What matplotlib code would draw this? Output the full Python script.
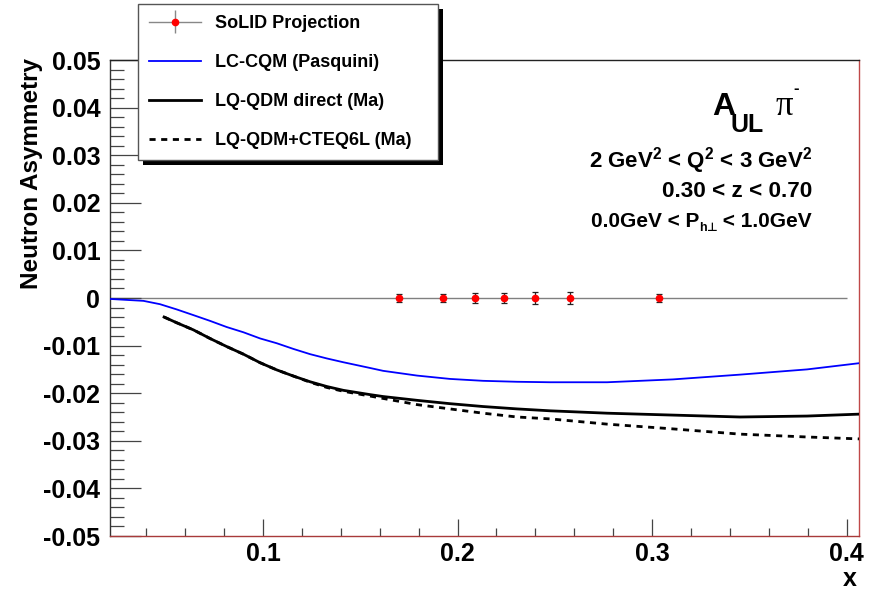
import matplotlib
matplotlib.use('Agg')
import matplotlib.pyplot as plt
from matplotlib.patches import Rectangle
from matplotlib.container import ErrorbarContainer
from matplotlib.legend_handler import HandlerErrorbar
from matplotlib.ticker import MultipleLocator, FixedLocator

plt.rcParams['font.family'] = ['Liberation Sans', 'DejaVu Sans']
plt.rcParams['font.weight'] = 'bold'
plt.rcParams['mathtext.fontset'] = 'custom'
plt.rcParams['mathtext.rm'] = 'Liberation Sans:bold'
plt.rcParams['mathtext.bf'] = 'Liberation Sans:bold'
plt.rcParams['mathtext.it'] = 'Liberation Sans:bold'
plt.rcParams['mathtext.default'] = 'bf'

# ---------------- data ----------------
proj_x = [0.170, 0.1925, 0.209, 0.224, 0.240, 0.258, 0.3035]
proj_y = [0.0, 0.0, 0.0, 0.0, 0.0, 0.0, 0.0]
proj_err = [0.0009, 0.0009, 0.0010, 0.0011, 0.0013, 0.0012, 0.0009]

cqm_x = [0.0213, 0.0385, 0.0470, 0.0556, 0.0642, 0.0727, 0.0813, 0.0899, 0.0985, 0.1070,
         0.1156, 0.1242, 0.1328, 0.1413, 0.1550, 0.1617, 0.1792, 0.1961, 0.2131,
         0.2306, 0.2476, 0.2769, 0.3108, 0.3452, 0.3797, 0.4064]
cqm_y = [-0.0002, -0.0006, -0.0013, -0.0024, -0.0036, -0.0048, -0.0061, -0.0072, -0.0085,
         -0.0095, -0.0107, -0.0118, -0.0127, -0.0135, -0.0147, -0.0153, -0.0163, -0.0170,
         -0.0174, -0.0176, -0.0177, -0.0177, -0.0171, -0.0161, -0.0150, -0.0137]

ma_x = [0.0491, 0.0556, 0.0642, 0.0727, 0.0813, 0.0899, 0.0985, 0.1070, 0.1156, 0.1242,
        0.1328, 0.1413, 0.1550, 0.1617, 0.1792, 0.1961, 0.2131, 0.2306, 0.2476, 0.2769,
        0.3108, 0.3452, 0.3797, 0.4064]
ma_direct_y = [-0.0040, -0.0052, -0.0067, -0.0085, -0.0102, -0.0118, -0.0136, -0.0151,
               -0.0164, -0.0176, -0.0186, -0.0194, -0.0203, -0.0207, -0.0215, -0.0222,
               -0.0228, -0.0233, -0.0237, -0.0242, -0.0246, -0.0250, -0.0248, -0.0244]
ma_cteq_y = [-0.0040, -0.0052, -0.0067, -0.0085, -0.0102, -0.0118, -0.0136, -0.0151,
             -0.0164, -0.0177, -0.0188, -0.0196, -0.0206, -0.0211, -0.0224, -0.0233,
             -0.0242, -0.0250, -0.0254, -0.0265, -0.0275, -0.0286, -0.0292, -0.0296]

labels = ['SoLID Projection', 'LC-CQM (Pasquini)', 'LQ-QDM direct (Ma)', 'LQ-QDM+CTEQ6L (Ma)']

x_ticks = [0.1, 0.2, 0.3, 0.4]
x_tick_labels = ['0.1', '0.2', '0.3', '0.4']
y_ticks = [0.05, 0.04, 0.03, 0.02, 0.01, 0.0, -0.01, -0.02, -0.03, -0.04, -0.05]
y_tick_labels = ['0.05', '0.04', '0.03', '0.02', '0.01', '0', '-0.01', '-0.02', '-0.03', '-0.04', '-0.05']

x_range = (0.0213, 0.4064)
y_range = (-0.05, 0.05)
zero_line_end = 0.4

# ---------------- figure ----------------
W, H = 876, 593
fig = plt.figure(figsize=(W / 100, H / 100), dpi=100)
ax = fig.add_axes([110 / W, 1 - 536 / H, (859 - 110) / W, (536 - 60) / H])

ax.hlines(0, x_range[0], zero_line_end, color='#808080', lw=1.0, zorder=1)

ax.plot(cqm_x, cqm_y, color='#0000ff', lw=1.3, zorder=3)
ax.plot(ma_x, ma_direct_y, color='black', lw=2.0, zorder=3)
ax.plot(ma_x, ma_cteq_y, color='black', lw=2.0, ls=(0, (2.2, 2.0)), zorder=3)

ax.errorbar(proj_x, proj_y, yerr=proj_err, fmt='o', ms=4.5, mfc='red', mec='red',
            ecolor='#222222', elinewidth=0.9, capsize=2.0, capthick=0.9, zorder=4)

ax.set_xlim(*x_range)
ax.set_ylim(*y_range)

ax.xaxis.set_major_locator(FixedLocator(x_ticks))
ax.set_xticklabels(x_tick_labels)
ax.xaxis.set_minor_locator(MultipleLocator(0.02))
ax.yaxis.set_major_locator(FixedLocator(y_ticks))
ax.set_yticklabels(y_tick_labels)
ax.yaxis.set_minor_locator(MultipleLocator(0.002))

ax.tick_params(axis='both', which='both', direction='in', color='#444444',
               top=False, right=False, width=0.9)
ax.tick_params(axis='y', which='major', length=22, pad=7, labelsize=18)
ax.tick_params(axis='y', which='minor', length=10)
ax.tick_params(axis='x', which='major', length=12, pad=4, labelsize=18)
ax.tick_params(axis='x', which='minor', length=6)
for lab in ax.get_xticklabels() + ax.get_yticklabels():
    lab.set_fontweight('bold')

ax.spines['left'].set_color('#333333')
ax.spines['top'].set_color('#222222')
ax.spines['right'].set_color('#c04848')
ax.spines['bottom'].set_color('#a83a3a')
for s in ax.spines.values():
    s.set_linewidth(1.0)

fig.text(32 / W, 1 - 58 / H, 'Neutron Asymmetry', rotation=90, ha='center', va='top',
         fontsize=17.5, fontweight='bold')
fig.text(857 / W, 1 - 586 / H, 'x', ha='right', va='baseline', fontsize=18, fontweight='bold')

# annotation texts
fig.text(712 / W, 1 - 115 / H, 'A', ha='left', va='baseline', fontsize=23, fontweight='bold')
fig.text(731 / W, 1 - 132 / H, 'UL', ha='left', va='baseline', fontsize=18, fontweight='bold')
fig.text(776 / W, 1 - 115 / H, '\u03c0', ha='left', va='baseline', fontsize=25,
         family='Liberation Serif', fontweight='normal')
fig.text(793 / W, 1 - 93 / H, '-', ha='left', va='baseline', fontsize=12, fontweight='bold')

fig.text(812 / W, 1 - 168 / H, r'2 GeV$^{2}$ < Q$^{2}$ < 3 GeV$^{2}$', ha='right',
         va='baseline', fontsize=16, fontweight='bold')
fig.text(812 / W, 1 - 197 / H, '0.30 < z < 0.70', ha='right', va='baseline',
         fontsize=16.2, fontweight='bold')

# legend
h_proj = ax.errorbar([], [], yerr=[], fmt='o-', ms=4.5, color='#888888', mfc='red',
                     mec='red', ecolor='#888888', elinewidth=1.0, capsize=0, lw=1.0)
h_cqm = plt.Line2D([], [], color='#0000ff', lw=1.3)
h_dir = plt.Line2D([], [], color='black', lw=2.0)
h_cteq = plt.Line2D([], [], color='black', lw=2.0, ls=(0, (2.2, 2.0)))

leg = fig.legend([h_proj, h_cqm, h_dir, h_cteq], labels, loc='upper left',
                 bbox_to_anchor=(138 / W, 1 - 4 / H, 300 / W, 0.0), mode='expand',
                 bbox_transform=fig.transFigure, fontsize=13, frameon=True,
                 fancybox=False, framealpha=1, edgecolor='#555555', borderpad=0.6,
                 labelspacing=1.22, handlelength=2.9, handletextpad=0.75,
                 borderaxespad=0.0,
                 handler_map={ErrorbarContainer: HandlerErrorbar(yerr_size=0.65)})
leg.get_frame().set_linewidth(1.0)
for t in leg.get_texts():
    t.set_fontweight('bold')

fig.canvas.draw()
renderer = fig.canvas.get_renderer()

# P_h-perp line built from pieces, right-aligned (display pixel coordinates)
base_y = H - 227
sub_y = base_y - 4
t3 = fig.text(812, base_y, ' < 1.0GeV', ha='right', va='baseline', fontsize=15,
              fontweight='bold', transform=None)
x_edge = t3.get_window_extent(renderer).x0
t2b = fig.text(x_edge, sub_y, '\u22a5', ha='right', va='baseline', fontsize=8.5,
               family='DejaVu Sans', fontweight='bold', transform=None)
x_edge = t2b.get_window_extent(renderer).x0
t2a = fig.text(x_edge, sub_y, 'h', ha='right', va='baseline', fontsize=9,
               fontweight='bold', transform=None)
x_edge = t2a.get_window_extent(renderer).x0
fig.text(x_edge, base_y, '0.0GeV < P', ha='right', va='baseline', fontsize=15,
         fontweight='bold', transform=None)

bb = leg.get_window_extent()
shadow = Rectangle((bb.x0 + 5, bb.y0 - 5), bb.width, bb.height, transform=None,
                   facecolor='black', edgecolor='none', zorder=leg.get_zorder() - 0.1)
fig.add_artist(shadow)

fig.savefig('out.png', dpi=100)
